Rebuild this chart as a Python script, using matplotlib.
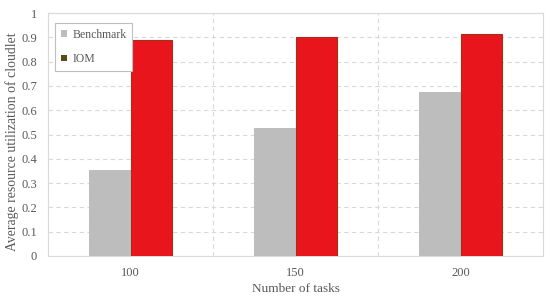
import matplotlib
matplotlib.use("Agg")
import matplotlib.pyplot as plt
from matplotlib.patches import Patch
import numpy as np

categories = ["100", "150", "200"]
benchmark = [0.352, 0.527, 0.676]
iom = [0.89, 0.903, 0.915]

plt.rcParams['font.family'] = ['Liberation Serif', 'DejaVu Serif']

fig = plt.figure(figsize=(5.5, 3.01), dpi=100)
ax = fig.add_axes([48/550, 1-256/301, (543-48)/550, (256-13)/301])

x = np.arange(len(categories))
w = 0.25
ax.bar(x - w/2, benchmark, w, color="#BDBDBD", zorder=3)
ax.bar(x + w/2, iom, w, color="#E8161C", edgecolor="#A0301A", linewidth=0.8, zorder=3)

ax.set_xlim(-0.5, 2.5)
ax.set_ylim(0, 1)
ax.set_xticks(x)
ax.set_xticklabels(categories)
ax.set_xticks([0.5, 1.5], minor=True)
ax.set_yticks(np.arange(0, 1.01, 0.1))
ax.set_yticklabels(["0"] + [f"{v:.1f}" for v in np.arange(0.1, 0.95, 0.1)] + ["1"])
ax.tick_params(axis='both', which='both', length=0, colors="#595959", labelsize=9)
ax.tick_params(axis='x', pad=8)
ax.tick_params(axis='y', pad=8)
ax.grid(axis='y', which='major', color="#D9D9D9", linestyle=(0, (4, 3)), linewidth=0.8, zorder=0)
ax.grid(axis='x', which='minor', color="#D9D9D9", linestyle=(0, (4, 3)), linewidth=0.8, zorder=0)
for s in ax.spines.values():
    s.set_color("#D9D9D9")
ax.set_xlabel("Number of tasks", color="#595959", fontsize=9.5, labelpad=3)
ax.set_ylabel("Average resource utilization of cloudlet", color="#595959", fontsize=9.9)
ax.yaxis.set_label_coords((19 - 48) / 495, (256 - 141.5) / 243)

handles = [Patch(facecolor="#BDBDBD", label="Benchmark"), Patch(facecolor="#5C4A1E", label="IOM")]
leg = ax.legend(handles=handles, loc="upper left", bbox_to_anchor=(7/495, 1 - 10/243), fontsize=8.5,
                frameon=True, fancybox=False, edgecolor="#BFBFBF", handlelength=0.5, handleheight=0.5,
                handletextpad=0.45, labelspacing=1.05, borderpad=0.5, borderaxespad=0, labelcolor="#595959",
                framealpha=1)
leg.get_frame().set_linewidth(0.8)
leg.set_zorder(5)

fig.savefig("out.png", dpi=100)
